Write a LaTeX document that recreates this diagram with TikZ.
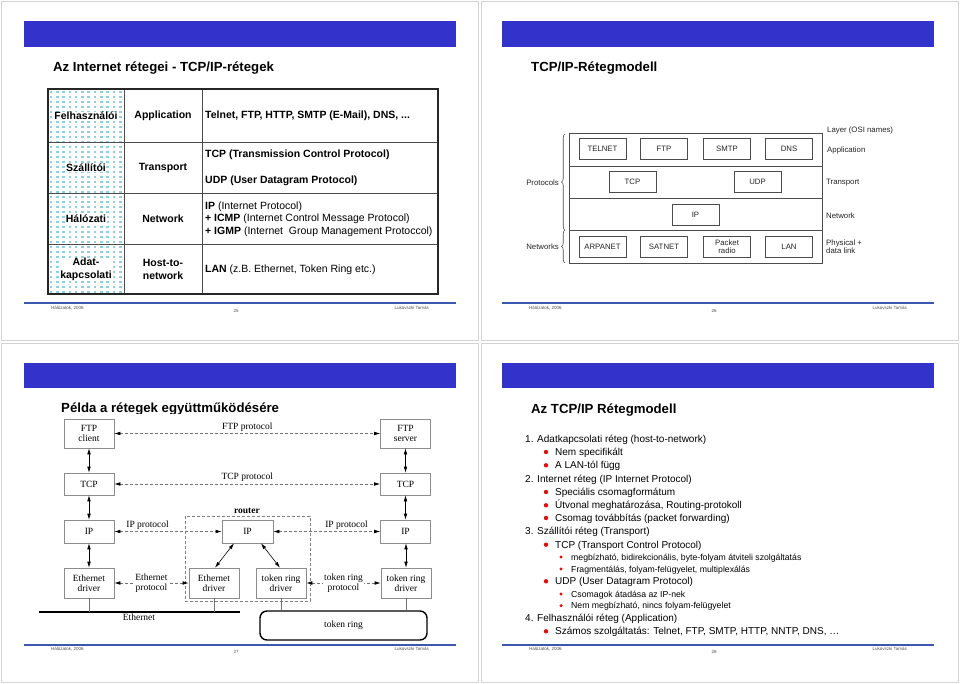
\documentclass[tikz,border=0pt]{standalone}
\usepackage{fontspec}
\setmainfont{Liberation Sans}
\newfontfamily\serifd{Liberation Serif}
\usetikzlibrary{arrows.meta,decorations.pathreplacing,calc}
\definecolor{hdrblue}{HTML}{3333CC}
\definecolor{ftblue}{HTML}{3A58B0}
\definecolor{dotcyan}{HTML}{8ECFE0}
\definecolor{bulletred}{HTML}{DD1111}
\definecolor{slideborder}{HTML}{D4D4D4}
\tikzset{
  slideframe/.style={draw=slideborder, line width=0.8pt},
  hdrbar/.style={fill=hdrblue, draw=none},
  slidetitle/.style={anchor=base west, font=\bfseries\fontsize{13.2}{15}\selectfont, inner sep=0},
  footline/.style={draw=ftblue, line width=1.1pt},
  foottext/.style={font=\fontsize{4.5}{5}\selectfont, text=black!70, inner sep=0},
  tabtxt/.style={font=\fontsize{10.5}{12.5}\selectfont, inner sep=0.5pt, align=center},
  tabcol1/.style={tabtxt, font=\bfseries\fontsize{10.5}{12.5}\selectfont, fill=white},
  tableft/.style={font=\fontsize{10.5}{12.5}\selectfont, inner sep=0, anchor=west},
  protobox/.style={draw=black!70, line width=0.7pt, minimum width=47pt, minimum height=21pt, inner sep=0, align=center, font=\fontsize{7.8}{8.3}\selectfont, text=black!85},
  osilabel/.style={anchor=west, inner sep=0, align=left, font=\fontsize{7.8}{8.3}\selectfont, text=black!85},
  dbox/.style={draw=black!45, fill=white, line width=0.6pt, minimum width=50pt, inner sep=0, align=center, font=\serifd\fontsize{9.5}{10.5}\selectfont},
  dlabel/.style={inner sep=1pt, align=center, font=\serifd\fontsize{9.5}{10.5}\selectfont},
  dproto/.style={dashed, dash pattern=on 3pt off 2pt, draw=black!55, line width=0.6pt, {Latex[length=6pt,width=3.6pt,fill=black,color=black]}-{Latex[length=6pt,width=3.6pt,fill=black,color=black]}},
  sarrow/.style={draw=black, line width=0.6pt, {Latex[length=6pt,width=3.6pt]}-{Latex[length=6pt,width=3.6pt]}},
  dropline/.style={draw=black!55, line width=0.6pt},
  lvlone/.style={anchor=base west, inner sep=0, font=\fontsize{10}{12}\selectfont},
  lvltwo/.style={anchor=base west, inner sep=0, font=\fontsize{8.7}{10}\selectfont},
}
\begin{document}
\begin{tikzpicture}[x=1pt,y=-1pt]
\useasboundingbox (0,0) rectangle (960,684);
\fill[white] (0,0) rectangle (960,684);
% ---------- slide frames ----------
\draw[slideframe] (1,1) rectangle (478,340);
\draw[slideframe] (481,1) rectangle (958,340);
\draw[slideframe] (1,343) rectangle (478,682);
\draw[slideframe] (481,343) rectangle (958,682);
% header bars
\fill[hdrblue] (24,21) rectangle (456,47);
\fill[hdrblue] (502,21) rectangle (934,47);
\fill[hdrblue] (24,363) rectangle (456,388);
\fill[hdrblue] (502,363) rectangle (934,388);
% footers
\draw[footline] (24,303) -- (456,303);
\draw[footline] (502,303) -- (934,303);
\draw[footline] (24,645) -- (456,645);
\draw[footline] (502,645) -- (934,645);
\node[foottext, anchor=west] (f1a) at (51,308) {Hálózatok, 2006};
\node[foottext] (f1b) at (236,311) {25};
\node[foottext, anchor=east] (f1c) at (429,308) {Lukovszki Tamás};
\node[foottext, anchor=west] (f2a) at (529,308) {Hálózatok, 2006};
\node[foottext] (f2b) at (714,311) {26};
\node[foottext, anchor=east] (f2c) at (907,308) {Lukovszki Tamás};
\node[foottext, anchor=west] (f3a) at (51,649) {Hálózatok, 2006};
\node[foottext] (f3b) at (236,652) {27};
\node[foottext, anchor=east] (f3c) at (429,649) {Lukovszki Tamás};
\node[foottext, anchor=west] (f4a) at (529,649) {Hálózatok, 2006};
\node[foottext] (f4b) at (714,652) {28};
\node[foottext, anchor=east] (f4c) at (907,649) {Lukovszki Tamás};

% ---------- slide 1 ----------
\node[slidetitle] (title1) at (53,72) {Az Internet rétegei - TCP/IP-rétegek};
\foreach \i in {0,...,11}{\foreach \j in {0,...,40}{
  \fill[dotcyan] ({49.6+\i*6.3},{90.6+\j*5}) rectangle ++(2.6,2.6);}}
\draw[black!70, line width=0.8pt] (124,89) -- (124,294) (202,89) -- (202,294)
  (48,142) -- (438,142) (48,193) -- (438,193) (48,244) -- (438,244);
\draw[black!85, line width=1.6pt] (48,89) rectangle (438,294);
\node[tabcol1] (c11) at (86,116) {Felhasználói};
\node[tabcol1] (c21) at (86,167.5) {Szállítói};
\node[tabcol1] (c31) at (86,219) {Hálózati};
\node[tabcol1] (c41) at (86,269.5) {Adat-\\kapcsolati};
\node[tabtxt, font=\bfseries\fontsize{10.5}{12.5}\selectfont] (c12) at (163,116) {Application};
\node[tabtxt, font=\bfseries\fontsize{10.5}{12.5}\selectfont] (c22) at (163,167.5) {Transport};
\node[tabtxt, font=\bfseries\fontsize{10.5}{12.5}\selectfont] (c32) at (163,219) {Network};
\node[tabtxt, font=\bfseries\fontsize{10.5}{12.5}\selectfont] (c42) at (163,269.5) {Host-to-\\network};
\node[tableft, font=\bfseries\fontsize{10.5}{12.5}\selectfont] (c13) at (205,116) {Telnet, FTP, HTTP, SMTP (E-Mail), DNS, ...};
\node[tableft, font=\bfseries\fontsize{10.5}{12.5}\selectfont] (c23a) at (205,155) {TCP (Transmission Control Protocol)};
\node[tableft, font=\bfseries\fontsize{10.5}{12.5}\selectfont] (c23b) at (205,180.5) {UDP (User Datagram Protocol)};
\node[tableft] (c33a) at (205,206.5) {\textbf{IP} (Internet Protocol)};
\node[tableft] (c33b) at (205,219) {\textbf{+ ICMP} (Internet Control Message Protocol)};
\node[tableft] (c33c) at (205,231.5) {\textbf{+ IGMP} (Internet\ \ Group Management Protoccol)};
\node[tableft] (c43) at (205,269.5) {\textbf{LAN} (z.B. Ethernet, Token Ring etc.)};

% ---------- slide 2 ----------
\node[slidetitle] (title2) at (531,72) {TCP/IP-Rétegmodell};
\draw[black!70, line width=0.8pt] (569,133) rectangle (822,263);
\draw[black!70, line width=0.8pt] (569,166) -- (822,166) (569,198) -- (822,198) (569,230) -- (822,230);
\node[protobox] (telnet) at (602.5,148.5) {TELNET};
\node[protobox] (ftp) at (664,148.5) {FTP};
\node[protobox] (smtp) at (727,148.5) {SMTP};
\node[protobox] (dns) at (789,148.5) {DNS};
\node[protobox] (tcp2) at (632.5,181.5) {TCP};
\node[protobox] (udp2) at (757.5,181.5) {UDP};
\node[protobox] (ip2) at (695.5,214.5) {IP};
\node[protobox] (arpanet) at (602.5,246.5) {ARPANET};
\node[protobox] (satnet) at (664,246.5) {SATNET};
\node[protobox] (packet) at (727,246.5) {Packet\\radio};
\node[protobox] (lan) at (789,246.5) {LAN};
\node[osilabel] (osi0) at (827,130) {Layer (OSI names)};
\node[osilabel] (osi1) at (827,150) {Application};
\node[osilabel] (osi2) at (826,183) {Transport};
\node[osilabel] (osi3) at (826,216) {Network};
\node[osilabel] (osi4) at (826,247) {Physical +\\data link};
\node[osilabel, anchor=east] (protl) at (559,183) {Protocols};
\node[osilabel, anchor=east] (netl) at (559,247) {Networks};
\coordinate (brA) at (565,230);
\coordinate (brB) at (565,134);
\coordinate (brC) at (565,263);
\draw[black!70, line width=0.6pt, decorate, decoration={brace, amplitude=3.5pt}] (brA) -- (brB);
\draw[black!70, line width=0.6pt, decorate, decoration={brace, amplitude=3.5pt}] (brC) -- (brA);

% ---------- slide 3 ----------
\node[slidetitle] (title3) at (61,412) {Példa a rétegek együttműködésére};
\fill[white] (37,413.6) rectangle (434,642);
\node[dbox, minimum height=29pt] (ftpc) at (89,433.5) {FTP\\client};
\node[dbox, minimum height=22pt] (tcpl) at (89,484) {TCP};
\node[dbox, minimum height=23pt] (ipl) at (89,531.5) {IP};
\node[dbox, minimum height=30pt] (ethl) at (89,583) {Ethernet\\driver};
\node[dbox, minimum height=29pt] (ftps) at (405.5,433.5) {FTP\\server};
\node[dbox, minimum height=22pt] (tcpr) at (405.5,484) {TCP};
\node[dbox, minimum height=23pt] (ipr) at (405.5,531.5) {IP};
\node[dbox, minimum height=30pt] (trr) at (406,583) {token ring\\driver};
\node[dbox, minimum height=23pt, minimum width=51pt] (ipm) at (247.5,531.5) {IP};
\node[dbox, minimum height=30pt] (ethm) at (214,583) {Ethernet\\driver};
\node[dbox, minimum height=30pt] (trm) at (281,583) {token ring\\driver};
\draw[dashed, dash pattern=on 3pt off 2pt, black!50, line width=0.6pt] (185,516) rectangle (310,601);
\node[dlabel, font=\serifd\bfseries\fontsize{9.5}{10.5}\selectfont] (routerl) at (247,510.5) {router};
% dashed protocol arrows
\draw[dproto] (ftpc) -- (ftps) node[dlabel, midway, above, yshift=1pt] (lftp) {FTP protocol};
\draw[dproto] (tcpl) -- (tcpr) node[dlabel, midway, above, yshift=1pt] (ltcp) {TCP protocol};
\draw[dproto] (ipl) -- (ipm) node[dlabel, pos=0.31, above, yshift=1pt] (lip1) {IP protocol};
\draw[dproto] (ipm) -- (ipr) node[dlabel, pos=0.685, above, yshift=1pt] (lip2) {IP protocol};
\draw[dproto] (ethl) -- (ethm) node[dlabel, midway, fill=white] (leth) {Ethernet\\protocol};
\draw[dproto] (trm) -- (trr) node[dlabel, midway, fill=white] (ltr) {token ring\\protocol};
% solid arrows
\draw[sarrow] (ftpc) -- (tcpl);
\draw[sarrow] (tcpl) -- (ipl);
\draw[sarrow] (ipl) -- (ethl);
\draw[sarrow] (ftps) -- (tcpr);
\draw[sarrow] (tcpr) -- (ipr);
\draw[sarrow] (ipr.south -| trr.north) -- (trr);
\draw[sarrow] ($(ipm.south)+(-13.5,0)$) -- ($(ethm.north)+(1,0)$);
\draw[sarrow] ($(ipm.south)+(13.5,0)$) -- ($(trm.north)+(-1,0)$);
% networks
\coordinate (ethA) at (39,612);
\coordinate (ethB) at (240,612);
\draw[black, line width=1.6pt] (ethA) -- (ethB);
\node[dlabel] (ethnet) at (139,617.5) {Ethernet};
\node[draw=black, line width=1.4pt, rounded corners=7pt, minimum width=167pt, minimum height=29pt, inner sep=0, font=\serifd\fontsize{9.5}{10.5}\selectfont] (ring) at (343.5,625.5) {token ring};
\draw[dropline] (ethl.south) -- (ethl.south |- ethA);
\draw[dropline] (ethm.south) -- (ethm.south |- ethA);
\draw[dropline] (trm.south) -- (trm.south |- ring.north);
\draw[dropline] (trr.south) -- (trr.south |- ring.north);

% ---------- slide 4 ----------
\node[slidetitle] (title4) at (531,413) {Az TCP/IP Rétegmodell};
\node[lvlone] (l1) at (525,442.3) {1. Adatkapcsolati réteg (host-to-network)};
\node[lvlone] (l2) at (555,455.6) {Nem specifikált};
\node[lvlone] (l3) at (555,468.9) {A LAN-tól függ};
\node[lvlone] (l4) at (525,482.3) {2. Internet réteg (IP Internet Protocol)};
\node[lvlone] (l5) at (555,495.6) {Speciális csomagformátum};
\node[lvlone] (l6) at (555,508.9) {Útvonal meghatározása, Routing-protokoll};
\node[lvlone] (l7) at (555,521.6) {Csomag továbbítás (packet forwarding)};
\node[lvlone] (l8) at (525,534.9) {3. Szállítói réteg (Transport)};
\node[lvlone] (l9) at (555,548.3) {TCP (Transport Control Protocol)};
\node[lvltwo] (l10) at (571,560.1) {megbízható, bidirekcionális, byte-folyam átviteli szolgáltatás};
\node[lvltwo] (l11) at (571,572.1) {Fragmentálás, folyam-felügyelet, multiplexálás};
\node[lvlone] (l12) at (555,584.9) {UDP (User Datagram Protocol)};
\node[lvltwo] (l13) at (571,597.1) {Csomagok átadása az IP-nek};
\node[lvltwo] (l14) at (571,608.8) {Nem megbízható, nincs folyam-felügyelet};
\node[lvlone] (l15) at (525,621.9) {4. Felhasználói réteg (Application)};
\node[lvlone] (l16) at (555,634.9) {Számos szolgáltatás: Telnet, FTP, SMTP, HTTP, NNTP, DNS, …};
\foreach \yy in {452,465.3,492,505.3,518,544.7,581.3,631.3}{\fill[bulletred] (546,\yy) circle (2.2);}
\foreach \yy in {557,569,594,605.7}{\fill[bulletred] (561,\yy) circle (1.7);}
\end{tikzpicture}
\end{document}
